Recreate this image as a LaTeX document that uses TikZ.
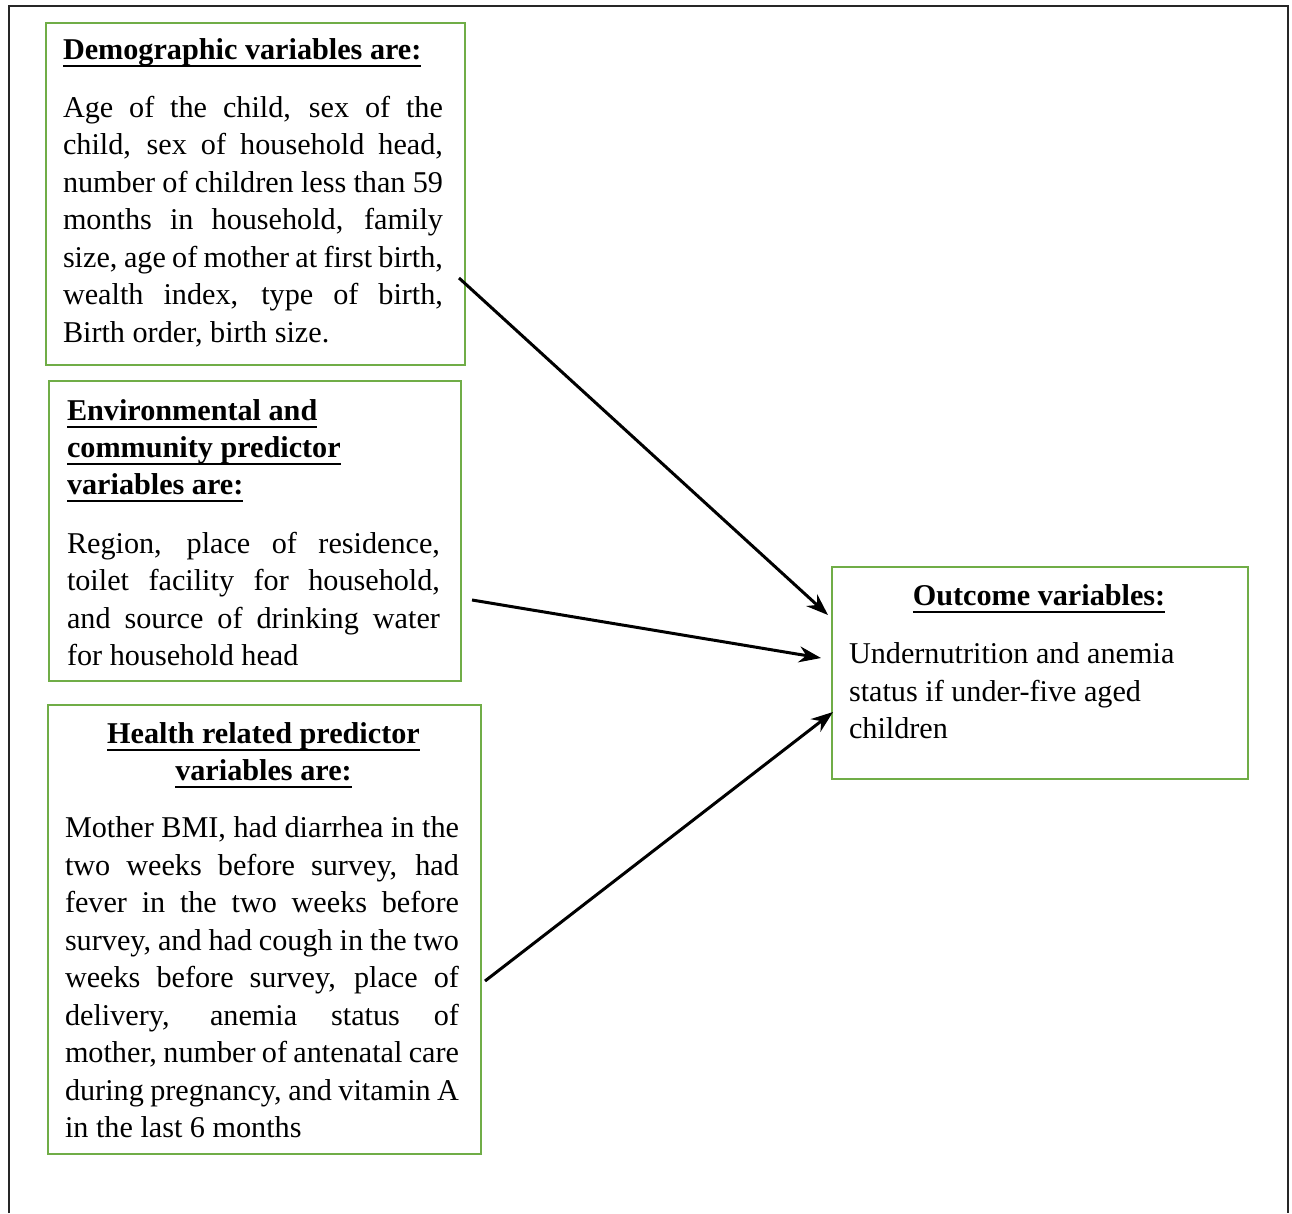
\documentclass[tikz,border=0pt]{standalone}
\usepackage{fontspec}
\setmainfont{Liberation Serif}
\usetikzlibrary{arrows.meta}
\definecolor{boxgreen}{RGB}{112,173,71}
\newsavebox{\ulbox}
\newcommand{\ulh}[1]{\sbox{\ulbox}{#1}\rlap{\rule[-7pt]{\wd\ulbox}{2pt}}\usebox{\ulbox}}
\tolerance=10000 \hbadness=10000 \hyphenpenalty=10000 \exhyphenpenalty=10000
\begin{document}
\begin{tikzpicture}[x=1pt,y=-1pt,
  box/.style={draw=boxgreen, line width=2pt, anchor=north west, inner sep=0pt},
  txt/.style={font=\fontsize{30.2}{37.5}\selectfont, inner sep=0pt, outer sep=0pt, anchor=north west},
  head/.style={txt, font=\fontsize{30.2}{37}\selectfont\bfseries},
  body/.style={txt, align=justify},
  arr/.style={-{Stealth[length=22pt,width=16pt]}, line width=3pt, black}]
\useasboundingbox (0,0) rectangle (1292,1213);
% outer frame (open at the bottom)
\draw[line width=2pt, black!85] (9,1213) -- (9,6) -- (1288,6) -- (1288,1213);

% boxes
\node[box, minimum width=419pt, minimum height=342pt] (demo) at (45,22) {};
\node[box, minimum width=412pt, minimum height=300pt] (env) at (48,380) {};
\node[box, minimum width=433pt, minimum height=449pt] (health) at (47,704) {};
\node[box, minimum width=416pt, minimum height=212pt] (outcome) at (831,566) {};

% demographic
\node[head, align=left] (demoH) at (63,39) {\ulh{Demographic variables are:}};
\node[body, text width=380pt] (demoB) at (63,96) {\noindent
Age of the child, sex of the\linebreak
child, sex of household head,\linebreak
number of children less than 59\linebreak
months in household, family\linebreak
size, age of mother at first birth,\linebreak
wealth index, type of birth,\linebreak
Birth order, birth size.};

% environmental
\node[head, align=left] (envH) at (67,400) {\ulh{Environmental and}\\ \ulh{community predictor}\\ \ulh{variables are:}};
\node[body, text width=373pt] (envB) at (67,532) {\noindent
Region, place of residence,\linebreak
toilet facility for household,\linebreak
and source of drinking water\linebreak
for household head};

% health
\node[head, align=center, anchor=north] (healthH) at (263.5,723) {\ulh{Health related predictor}\\ \ulh{variables are:}};
\node[body, text width=394pt] (healthB) at (65,817) {\noindent
Mother BMI, had diarrhea in the\linebreak
two weeks before survey, had\linebreak
fever in the two weeks before\linebreak
survey, and had cough in the two\linebreak
weeks before survey, place of\linebreak
delivery, anemia status of\linebreak
mother, number of antenatal care\linebreak
during pregnancy, and vitamin A\linebreak
in the last 6 months};

% outcome
\node[head, align=center, anchor=north] (outH) at (1039,585) {\ulh{Outcome variables:}};
\node[txt, align=left] (outB) at (849,643) {Undernutrition and anemia\\ status if under-five aged\\ children};

% arrows
\coordinate (s1) at (459,278);
\coordinate (e1) at (828,615);
\coordinate (s2) at (472,600);
\coordinate (e2) at (821,658);
\coordinate (s3) at (485,981);
\coordinate (e3) at (833,712);
\draw[arr] (s1) -- (e1);
\draw[arr] (s2) -- (e2);
\draw[arr] (s3) -- (e3);
\end{tikzpicture}
\end{document}
